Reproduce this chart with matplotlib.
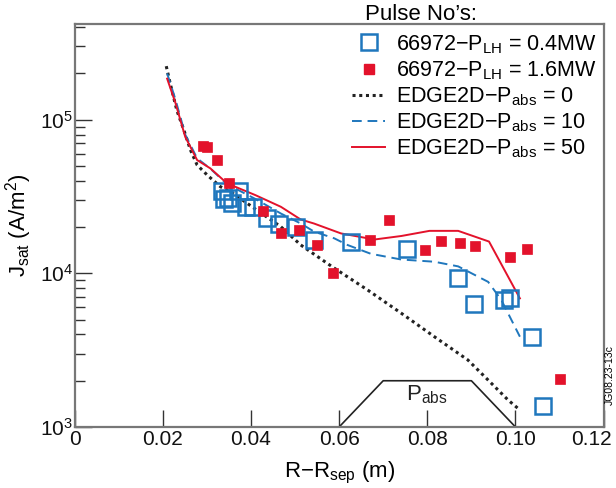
import numpy as np
import matplotlib.pyplot as plt
import matplotlib.transforms as mtransforms
from matplotlib.lines import Line2D

plt.rcParams['font.family'] = ['Liberation Sans', 'DejaVu Sans']
plt.rcParams['mathtext.fontset'] = 'custom'
plt.rcParams['mathtext.rm'] = 'Liberation Sans'
plt.rcParams['mathtext.it'] = 'Liberation Sans:italic'

BLUE = '#1f77bd'
RED = '#e3122b'

# experimental data, pulse 66972, P_LH = 0.4MW (open squares)
x_low = [0.0335, 0.0338, 0.0349, 0.0356, 0.0374, 0.0388, 0.0404, 0.0437, 0.0464,
         0.0502, 0.0543, 0.0627, 0.0753, 0.0870, 0.0907, 0.0973, 0.0988, 0.1037, 0.1062]
j_low = [3.42e4, 3.05e4, 3.1e4, 2.85e4, 3.42e4, 2.71e4, 2.71e4, 2.28e4, 2.11e4,
         2.0e4, 1.65e4, 1.61e4, 1.43e4, 9.27e3, 6.31e3, 6.7e3, 6.9e3, 3.87e3, 1.38e3]

# pulse 66972, P_LH = 1.6MW (filled squares)
x_high = [0.0292, 0.0301, 0.0322, 0.0351, 0.0428, 0.0468, 0.0508, 0.0549, 0.0587,
          0.0671, 0.0714, 0.0795, 0.0832, 0.0875, 0.0909, 0.0988, 0.1025, 0.1101]
j_high = [6.73e4, 6.6e4, 5.46e4, 3.87e4, 2.53e4, 1.82e4, 1.92e4, 1.52e4, 1.0e4,
          1.65e4, 2.24e4, 1.42e4, 1.62e4, 1.58e4, 1.51e4, 1.27e4, 1.45e4, 2.04e3]

# EDGE2D runs
x_p0 = [0.0208, 0.0217, 0.0232, 0.0248, 0.0263, 0.0278, 0.0301, 0.0331, 0.0354, 0.0410,
        0.0468, 0.0513, 0.0585, 0.0665, 0.0741, 0.0816, 0.0892, 0.0938, 0.0983, 0.1010]
j_p0 = [2.23e5, 1.72e5, 1.15e5, 8.55e4, 6.34e4, 5.07e4, 4.36e4, 3.66e4, 3.4e4, 2.62e4,
        2.01e4, 1.53e4, 1.10e4, 7.78e3, 5.5e3, 3.87e3, 2.73e3, 2.02e3, 1.50e3, 1.29e3]

x_p10 = [0.0210, 0.0229, 0.0251, 0.0278, 0.0308, 0.0346, 0.0410, 0.0468, 0.0513, 0.0543,
         0.0589, 0.0619, 0.0672, 0.0741, 0.0816, 0.0870, 0.0938, 0.0968, 0.1010]
j_p10 = [2.0e5, 1.35e5, 8.0e4, 5.6e4, 4.8e4, 3.8e4, 3.05e4, 2.45e4, 2.11e4, 1.87e4,
         1.69e4, 1.53e4, 1.34e4, 1.23e4, 1.19e4, 1.11e4, 8.8e3, 6.7e3, 3.87e3]

x_p50 = [0.0210, 0.0229, 0.0251, 0.0278, 0.0308, 0.0346, 0.0410, 0.0468, 0.0513, 0.0543,
         0.0604, 0.0680, 0.0741, 0.0805, 0.0870, 0.0940, 0.1010]
j_p50 = [1.85e5, 1.28e5, 7.74e4, 5.46e4, 4.82e4, 3.85e4, 3.23e4, 2.71e4, 2.24e4, 2.11e4,
         1.82e4, 1.66e4, 1.75e4, 1.89e4, 1.89e4, 1.61e4, 6.87e3]

# P_abs profile sketch
x_pabs = [0.06, 0.07, 0.09, 0.10]
y_pabs = [1e3, 2e3, 2e3, 1e3]

fig = plt.figure(figsize=(6.16, 4.88), dpi=100)
ax = fig.add_axes([0.121, 0.125, 0.859, 0.826])

ax.plot(x_pabs, y_pabs, color='#222222', lw=1.2)
ax.text(0.08, 1.62e3, r'P$_{\mathregular{abs}}$', ha='center', va='center', fontsize=16, color='#222222')

ax.plot(x_p0, j_p0, color='#222222', ls=(0, (1, 1.2)), lw=2.2)
ax.plot(x_p10, j_p10, color=BLUE, ls=(0, (5, 3)), lw=1.4)
ax.plot(x_p50, j_p50, color=RED, lw=1.4)

ax.plot(x_low, j_low, 's', ms=11, mfc='none', mec=BLUE, mew=1.8)
ax.plot(x_high, j_high, 's', ms=7.5, mfc=RED, mec=RED, mew=0.5)

ax.set_yscale('log')
ax.set_xlim(0, 0.12)
ax.set_ylim(1e3, 4.2e5)
ax.set_xticks([0, 0.02, 0.04, 0.06, 0.08, 0.10, 0.12])
ax.set_xticklabels(['0', '0.02', '0.04', '0.06', '0.08', '0.10', '0.12'])
ax.tick_params(axis='both', which='major', direction='in', length=12, width=1, colors='#333333',
               labelsize=15, labelcolor='#111111')
ax.tick_params(axis='y', which='minor', direction='in', length=7, width=1, colors='#333333')
ax.tick_params(axis='x', which='minor', bottom=False)
ax.tick_params(axis='x', pad=2)
ax.tick_params(axis='y', pad=1)
for s in ax.spines.values():
    s.set_color('#777777')
    s.set_linewidth(1.6)

# last x label sits inside the figure, right-aligned a little past the spine
last = ax.get_xticklabels()[-1]
last.set_ha('right')
last.set_transform(last.get_transform() + mtransforms.ScaledTranslation(8 / 100, 0, fig.dpi_scale_trans))

ax.set_xlabel(r'R$-$R$_{\mathregular{sep}}$ (m)', fontsize=16, labelpad=8)
ax.set_ylabel(r'J$_{\mathregular{sat}}$ (A/m$^{2}$)', fontsize=16, labelpad=4)

handles = [
    Line2D([], [], ls='none', marker='s', ms=11, mfc='none', mec=BLUE, mew=1.8),
    Line2D([], [], ls='none', marker='s', ms=7.5, mfc=RED, mec=RED),
    Line2D([], [], color='#222222', ls=(0, (1, 1.2)), lw=2.2),
    Line2D([], [], color=BLUE, ls=(0, (5, 3)), lw=1.4),
    Line2D([], [], color=RED, lw=1.4),
]
labels = [
    r'66972$-$P$_{\mathregular{LH}}$ = 0.4MW',
    r'66972$-$P$_{\mathregular{LH}}$ = 1.6MW',
    r'EDGE2D$-$P$_{\mathregular{abs}}$ = 0',
    r'EDGE2D$-$P$_{\mathregular{abs}}$ = 10',
    r'EDGE2D$-$P$_{\mathregular{abs}}$ = 50',
]
ax.legend(handles, labels, loc='upper right', bbox_to_anchor=(597 / 616, 1 - 33 / 488),
          bbox_transform=fig.transFigure, frameon=False, fontsize=15.5, handlelength=1.55,
          handletextpad=0.5, labelspacing=0.16, borderaxespad=0, borderpad=0)
fig.text(421 / 616, 1 - 15 / 488, 'Pulse No’s:', ha='center', va='center', fontsize=16)
fig.text(610 / 616, 1 - 375 / 488, 'JG08.23-13c', rotation=90, ha='center', va='center', fontsize=7.5)

fig.savefig('out.png', dpi=100)
